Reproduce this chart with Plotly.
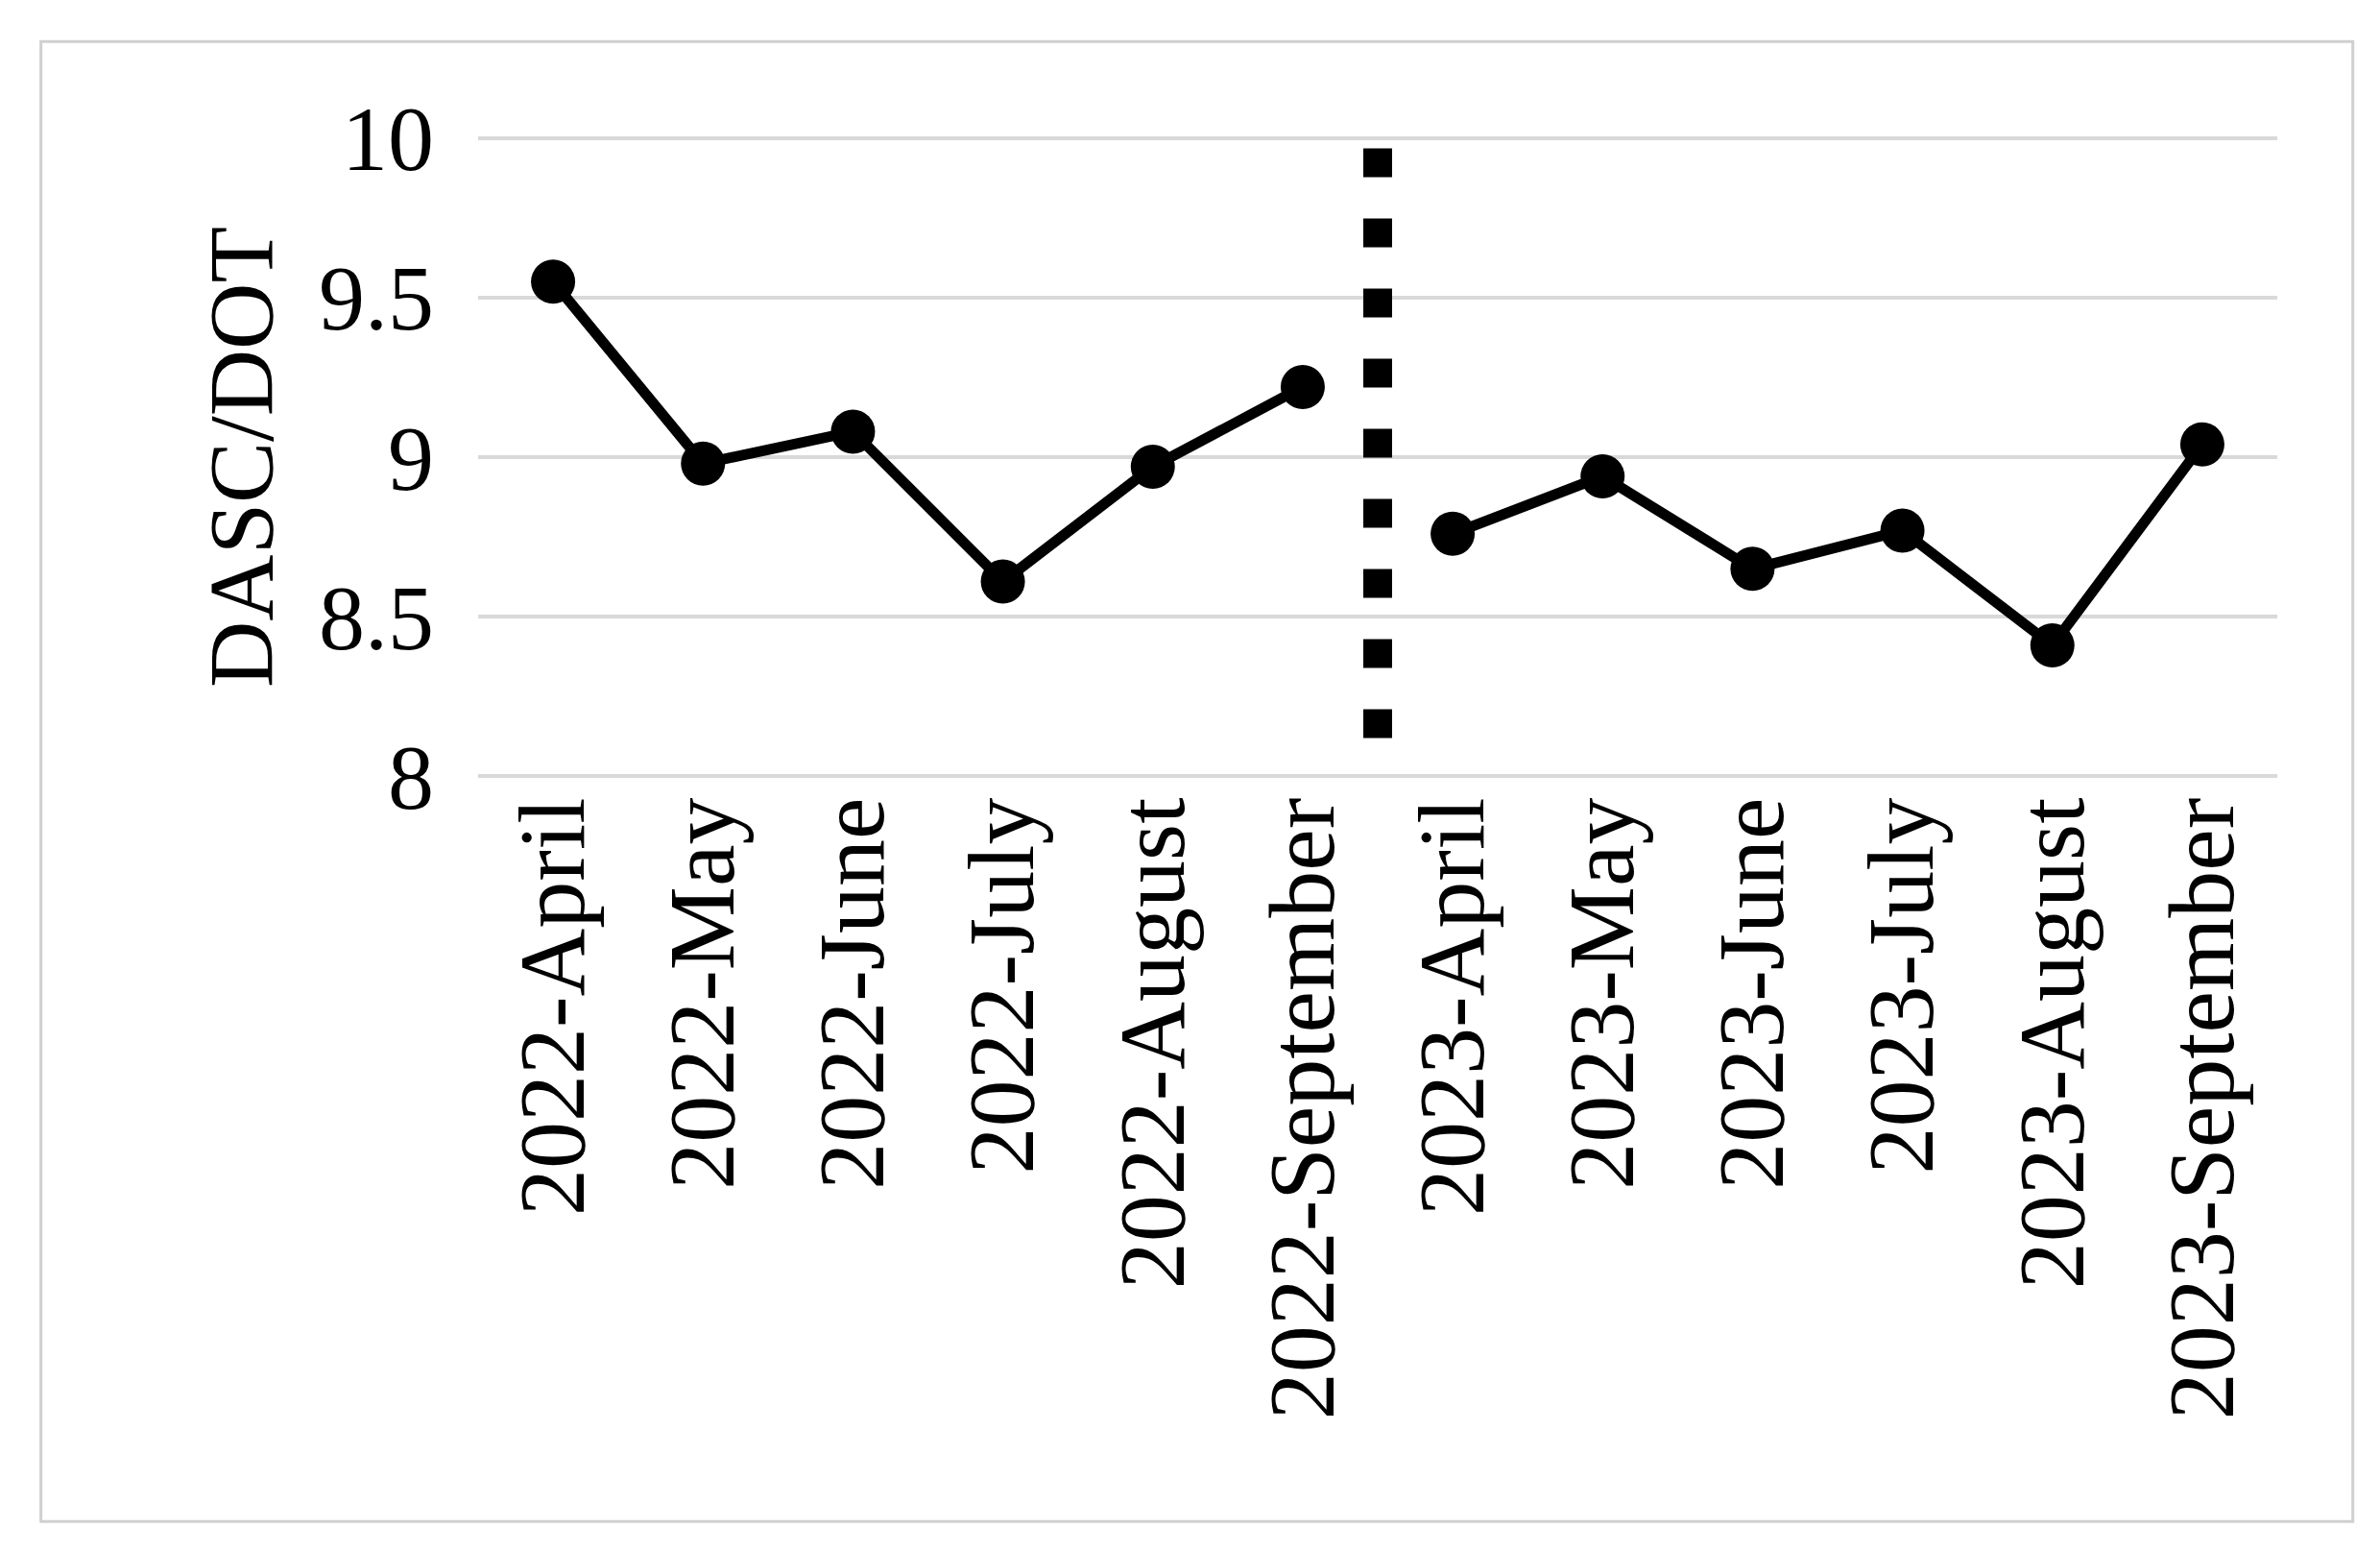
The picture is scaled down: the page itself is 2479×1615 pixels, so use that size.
import plotly.graph_objects as go

cats = ["2022-April","2022-May","2022-June","2022-July","2022-August","2022-September",
        "2023-April","2023-May","2023-June","2023-July","2023-August","2023-September"]
vals_2022 = [9.55, 8.98, 9.08, 8.61, 8.97, 9.22]
vals_2023 = [8.76, 8.94, 8.65, 8.77, 8.41, 9.04]

fig = go.Figure()
style = dict(mode="lines+markers", line=dict(color="black", width=11),
             marker=dict(color="black", size=46), showlegend=False, cliponaxis=False)
fig.add_trace(go.Scatter(x=cats[:6], y=vals_2022, **style))
fig.add_trace(go.Scatter(x=cats[6:], y=vals_2023, **style))

fig.add_shape(type="line", xref="x", yref="y", x0=5.5, x1=5.5, y0=8.12, y1=10.03,
              line=dict(color="black", width=30, dash="30px,43px"))
fig.add_shape(type="rect", xref="paper", yref="paper", x0=-0.243, x1=1.042, y0=-1.159, y1=1.148,
              line=dict(color="#d0d0d0", width=3))

font = "Liberation Serif, Times New Roman, serif"
fig.update_layout(
    width=2479, height=1615, paper_bgcolor="white", plot_bgcolor="white",
    margin=dict(l=490, r=115, t=134, b=813),
    font=dict(family=font, color="black"),
    xaxis=dict(type="category", categoryorder="array", categoryarray=cats,
               range=[-0.5, 11.5], tickangle=-90, tickfont=dict(size=98),
               showgrid=False, showline=False, ticks=""),
    yaxis=dict(range=[7.995, 10.005], tickvals=[8, 8.5, 9, 9.5, 10], ticktext=["8","8.5","9","9.5","10"],
               tickfont=dict(size=96), showgrid=True, gridcolor="#d9d9d9", gridwidth=4,
               zeroline=False, showline=False, ticks="", ticklabelstandoff=45,
               title=dict(text="DASC/DOT", font=dict(size=96), standoff=15)),
)
fig.write_html("out.html")
